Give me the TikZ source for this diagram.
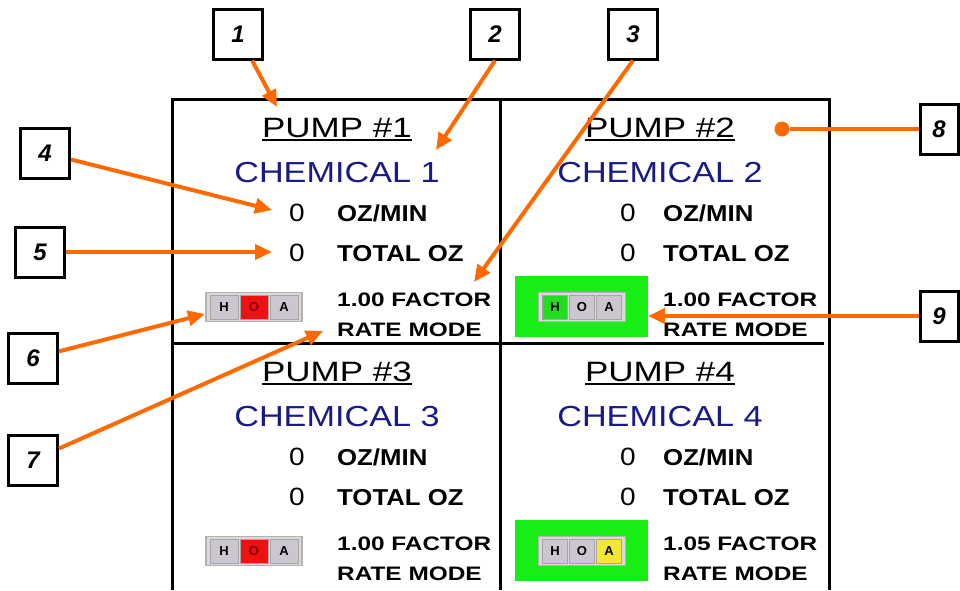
\documentclass[tikz,border=0pt]{standalone}
\usepackage{fontspec}
\setsansfont{Liberation Sans}
\newfontfamily\titelfont[FakeStretch=1.25]{Liberation Sans}
\newfontfamily\chemfont[FakeStretch=1.18]{Liberation Sans}
\newfontfamily\wertfont[FakeStretch=1.12]{Liberation Sans}
\newfontfamily\faktorfont[FakeStretch=1.25]{Liberation Sans}
\usepackage{tikz}
\usetikzlibrary{arrows.meta,calc,positioning}
\definecolor{pfeil}{HTML}{FF6A00}
\definecolor{chemblau}{HTML}{1A1A86}
\definecolor{hoagrau}{HTML}{CCC6D0}
\definecolor{hoarot}{HTML}{EE1111}
\definecolor{hoagruen}{HTML}{22DD22}
\definecolor{hoagelb}{HTML}{F4E634}
\definecolor{feldgruen}{HTML}{16EE16}

\begin{document}
\begin{tikzpicture}[x=1pt,y=-1pt,
  titel/.style={inner sep=0,font=\titelfont\fontsize{28}{28}\selectfont},
  chemie/.style={inner sep=0,text=chemblau,font=\chemfont\fontsize{29}{29}\selectfont},
  wert/.style={inner sep=0,font=\wertfont\fontsize{25}{25}\selectfont},
  einheit/.style={inner sep=0,font=\wertfont\bfseries\fontsize{23}{23}\selectfont},
  faktor/.style={inner sep=0,font=\faktorfont\bfseries\fontsize{19.5}{19.5}\selectfont},
  zelle/.style={draw=gray!70,line width=0.8,minimum height=24,inner sep=0,font=\sffamily\bfseries\fontsize{13}{13}\selectfont},
  nummer/.style={draw,line width=3,fill=white,minimum width=49,minimum height=50,inner sep=0,font=\sffamily\bfseries\itshape\fontsize{24}{24}\selectfont},
  zeiger/.style={pfeil,line width=4,-{Triangle[length=17pt,width=15pt]}}]
\useasboundingbox (0,0) rectangle (960,590);
%Vier Felder, Ursprung jeweils links oben (ox,oy); Texte auf Grundlinie
\foreach \nr/\ox/\oy/\mx/\nx/\tx/\fak/\cH/\cO/\cA/\oT/\gruen in {
  1/172/99/337/297/337/1.00/hoagrau/hoarot/hoagrau/red!50!black/0,
  2/500/99/660/628/663/1.00/hoagruen/hoagrau/hoagrau/black/1,
  3/172/343/337/297/337/1.00/hoagrau/hoarot/hoagrau/red!50!black/0,
  4/500/343/660/628/663/1.05/hoagrau/hoagrau/hoagelb/black/1}{
  \pgfmathsetmacro{\zb}{\gruen==1 ? 27 : 30}
  \node[titel,anchor=base] (titel\nr) at (\mx,\oy+38) {PUMP \#\nr};
  \draw[line width=2.5] ([yshift=-3pt]titel\nr.base west) -- ([yshift=-3pt]titel\nr.base east);
  \node[chemie,anchor=base] (chem\nr) at (\mx,\oy+83) {CHEMICAL \nr};
  \node[wert,anchor=base] (null\nr) at (\nx,\oy+122) {0};
  \node[einheit,anchor=base west] (ozmin\nr) at (\tx,\oy+122) {OZ/MIN};
  \node[wert,anchor=base] (summe\nr) at (\nx,\oy+162) {0};
  \node[einheit,anchor=base west] (total\nr) at (\tx,\oy+162) {TOTAL OZ};
  \node[faktor,anchor=base west] (fak\nr) at (\tx,\oy+207) {\fak\ FACTOR};
  \node[faktor,anchor=base west] (modus\nr) at (\tx,\oy+237) {RATE MODE};
  \ifnum\gruen=1
    \node[fill=feldgruen,minimum width=133,minimum height=61,inner sep=0] (feld\nr) at (\ox+81,\oy+207) {};
  \fi
  \node[draw=gray!60,fill=gray!30,line width=1.2,minimum width=3*\zb+6,minimum height=29,inner sep=0] (hoa\nr) at (\ox+82,\oy+208) {};
  \node[zelle,fill=\cH,minimum width=\zb-2] (hoaH\nr) at (\ox+82-\zb,\oy+208) {H};
  \node[zelle,fill=\cO,minimum width=\zb-2,text=\oT] (hoaO\nr) at (\ox+82,\oy+208) {O};
  \node[zelle,fill=\cA,minimum width=\zb-2] (hoaA\nr) at (\ox+82+\zb,\oy+208) {A};
}
%Rahmen
\draw[line width=3] (172,590) |- (829,99) -- (829,590);
\draw[line width=3] (500,99) -- (500,590);
\draw[line width=3] (172,343) -- (824,343);
%Nummern und Zeiger
\node[nummer] (c1) at (238,34) {1};
\node[nummer] (c2) at (495,34) {2};
\node[nummer] (c3) at (633,34) {3};
\node[nummer] (c4) at (45,153) {4};
\node[nummer] (c5) at (40,252) {5};
\node[nummer] (c6) at (33,358) {6};
\node[nummer] (c7) at (33,460) {7};
\node[nummer,minimum width=38] (c8) at (939,129) {8};
\node[nummer,minimum width=38] (c9) at (939,316) {9};
\node[circle,fill=pfeil,minimum size=15,inner sep=0] (punkt) at (782,129) {};
\coordinate (p1) at (277,107);
\coordinate (p2) at (436,150);
\coordinate (p3) at (474,282);
\coordinate (p4) at (272,210);
\coordinate (p5) at (272,252);
\coordinate (p6) at (205,314);
\coordinate (p7) at (323,331);
\coordinate (p9) at (648,316);
\draw[zeiger] (c1) -- (p1);
\draw[zeiger] (c2.south) -- (p2);
\draw[zeiger] (c3.south) -- (p3);
\draw[zeiger] (c4) -- (p4);
\draw[zeiger] (c5) -- (p5);
\draw[zeiger] (c6) -- (p6);
\draw[zeiger] (c7) -- (p7);
\draw[pfeil,line width=4] (c8) -- (punkt);
\draw[zeiger] (c9) -- (p9);
\end{tikzpicture}
\end{document}
